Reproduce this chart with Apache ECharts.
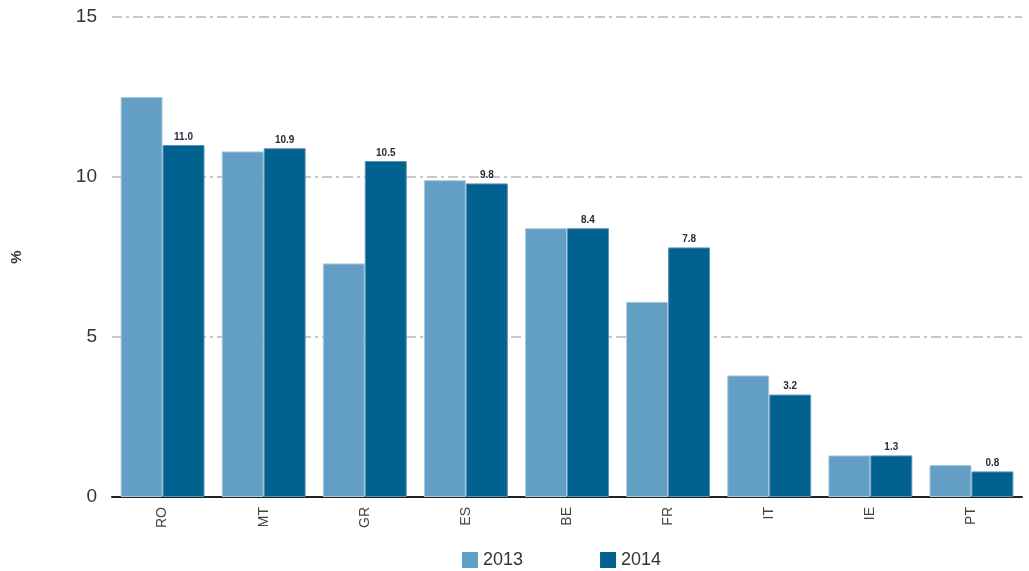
<!DOCTYPE html>
<html>
<head>
<meta charset="utf-8">
<script src="https://cdn.jsdelivr.net/npm/echarts@6/dist/echarts.min.js"></script>
<style>
  html, body { margin: 0; padding: 0; background: #fff; }
  #chart { width: 1029px; height: 571px; }
</style>
</head>
<body>
<div id="chart"></div>
<script>
// data
var countries = ['RO', 'MT', 'GR', 'ES', 'BE', 'FR', 'IT', 'IE', 'PT'];
var values2013 = [12.5, 10.8, 7.3, 9.9, 8.4, 6.1, 3.8, 1.3, 1.0];
var values2014 = [11.0, 10.9, 10.5, 9.8, 8.4, 7.8, 3.2, 1.3, 0.8];
var yTicks = [0, 5, 10, 15];

var chart = echarts.init(document.getElementById('chart'));

var option = {
    animation: false,
    textStyle: { fontFamily: 'Liberation Sans, Arial, sans-serif' },
    grid: {
        left: 112,
        right: 7,
        top: 17,
        bottom: 74
    },
    legend: {
        top: 546,
        left: 457,
        itemWidth: 16,
        itemHeight: 16,
        itemGap: 77,
        icon: 'rect',
        itemStyle: { borderWidth: 0 },
        textStyle: { fontSize: 18, color: '#333' },
        data: ['2013', '2014']
    },
    xAxis: {
        type: 'category',
        data: countries,
        axisTick: { show: false },
        axisLine: { lineStyle: { color: '#222', width: 2 } },
        axisLabel: {
            rotate: 90,
            fontSize: 14,
            color: '#444',
            margin: 10
        }
    },
    yAxis: {
        type: 'value',
        name: '%',
        nameLocation: 'middle',
        nameRotate: 90,
        nameGap: 88,
        nameTextStyle: { fontSize: 15, fontWeight: 'bold', color: '#333' },
        min: yTicks[0],
        max: yTicks[yTicks.length - 1],
        interval: 5,
        axisLine: { show: false },
        axisTick: { show: false },
        axisLabel: { fontSize: 19, color: '#333', margin: 15 },
        splitLine: {
            lineStyle: { color: '#c8c8c8', width: 2, type: [10, 4, 3, 4] }
        }
    },
    series: [
        {
            name: '2013',
            type: 'bar',
            data: values2013,
            barGap: '0%',
            barCategoryGap: '17%',
            itemStyle: { color: '#639fc4', borderColor: '#a9cbe0', borderWidth: 1 }
        },
        {
            name: '2014',
            type: 'bar',
            data: values2014,
            itemStyle: { color: '#01628f', borderColor: '#5c93b3', borderWidth: 1 },
            label: {
                show: true,
                position: 'top',
                distance: 3,
                fontSize: 10,
                fontWeight: 'bold',
                color: '#2a2a3a',
                formatter: function (p) { return p.value.toFixed(1); }
            }
        }
    ]
};

chart.setOption(option);
</script>
</body>
</html>
